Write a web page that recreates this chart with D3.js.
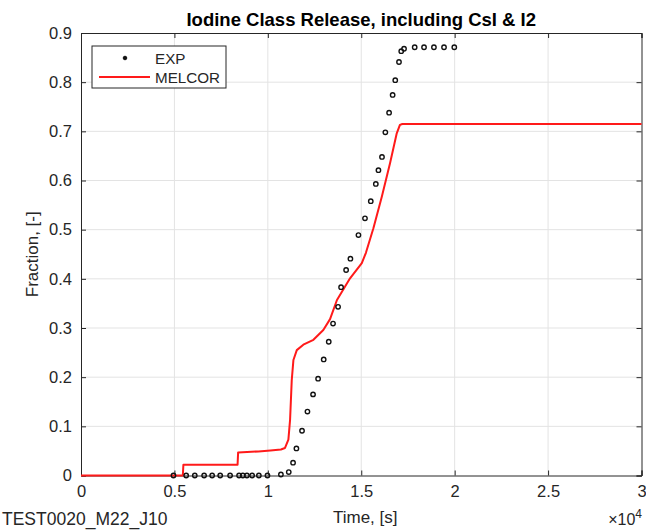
<!DOCTYPE html>
<html>
<head>
<meta charset="utf-8">
<script src="https://cdn.jsdelivr.net/npm/d3@7"></script>
<style>
  body { margin: 0; background: #fff; }
  text { font-family: "Liberation Sans", Arial, sans-serif; fill: #262626; }
</style>
</head>
<body>
<div id="chart"></div>
<script>
// EXP points (time in s, release fraction)
const expTime = [4950, 5630, 6090, 6590, 7020, 7450, 7980, 8460, 8660, 8880, 9160, 9520, 9980,
  10700, 11120, 11350, 11530, 11830, 12120, 12420, 12690, 12990, 13260, 13490, 13760,
  13920, 14190, 14420, 14850, 15200, 15510, 15780, 15920, 16110, 16290, 16490,
  16680, 16820, 17020, 17140, 17290, 17860, 18360, 18890, 19430, 19980];
const expFrac = [0, 0, 0, 0, 0, 0, 0, 0, 0, 0, 0, 0, 0,
  0.002, 0.007, 0.026, 0.055, 0.091, 0.130, 0.165, 0.197, 0.236, 0.272, 0.309, 0.343,
  0.383, 0.418, 0.441, 0.489, 0.523, 0.558, 0.593, 0.621, 0.648, 0.698, 0.738,
  0.774, 0.804, 0.841, 0.863, 0.868, 0.871, 0.871, 0.871, 0.871, 0.871];

// MELCOR calculation
const melTime = [0, 5450, 5480, 8380, 8410, 9500, 10140, 10700, 10920, 11100, 11190, 11280,
  11370, 11550, 11900, 12440, 12970, 13330, 13700, 14400, 15030, 15250, 15650, 16100,
  16540, 16900, 17070, 17200, 30000];
const melFrac = [0, 0, 0.022, 0.022, 0.047, 0.049, 0.051, 0.053, 0.056, 0.073, 0.113, 0.194,
  0.235, 0.255, 0.266, 0.276, 0.296, 0.318, 0.357, 0.401, 0.432, 0.453, 0.503, 0.567,
  0.635, 0.696, 0.713, 0.715, 0.715];

const xTicks = [0, 5000, 10000, 15000, 20000, 25000, 30000];
const xTickLabels = ["0", "0.5", "1", "1.5", "2", "2.5", "3"];
const yTicks = [0, 0.1, 0.2, 0.3, 0.4, 0.5, 0.6, 0.7, 0.8, 0.9];
const yTickLabels = ["0", "0.1", "0.2", "0.3", "0.4", "0.5", "0.6", "0.7", "0.8", "0.9"];

const width = 646,
  height = 530,
  margin = { top: 33, right: 4.5, bottom: 54.5, left: 81 };

const svg = d3.select("#chart").append("svg").attr("width", width).attr("height", height);

const x = d3.scaleLinear().domain([0, 30000]).range([margin.left, width - margin.right]);
const y = d3.scaleLinear().domain([0, 0.9]).range([height - margin.bottom, margin.top]);

const axisColor = "#262626";

// grid
svg.append("g")
  .selectAll("line")
  .data(xTicks.slice(1, -1))
  .join("line")
  .attr("x1", (d) => x(d)).attr("x2", (d) => x(d))
  .attr("y1", y(0)).attr("y2", y(0.9))
  .attr("stroke", "#e3e3e3").attr("stroke-width", 1);
svg.append("g")
  .selectAll("line")
  .data(yTicks.slice(1, -1))
  .join("line")
  .attr("x1", x(0)).attr("x2", x(30000))
  .attr("y1", (d) => y(d)).attr("y2", (d) => y(d))
  .attr("stroke", "#e3e3e3").attr("stroke-width", 1);

// axes (ticks inward, box on)
const bottomAxis = d3.axisBottom(x).tickValues(xTicks).tickSize(-5).tickPadding(10)
  .tickFormat((d, i) => xTickLabels[i]);
const topAxis = d3.axisTop(x).tickValues(xTicks).tickSize(-5).tickFormat("");
const leftAxis = d3.axisLeft(y).tickValues(yTicks).tickSize(-5).tickPadding(9)
  .tickFormat((d, i) => yTickLabels[i]);
const rightAxis = d3.axisRight(y).tickValues(yTicks).tickSize(-5).tickFormat("");

function styleAxis(g) {
  g.select(".domain").attr("stroke", axisColor).attr("stroke-width", 1);
  g.selectAll(".tick line").attr("stroke", axisColor);
  g.selectAll(".tick text")
    .attr("fill", axisColor)
    .style("font-family", "'Liberation Sans', Arial, sans-serif")
    .style("font-size", "16.5px");
}

svg.append("g").attr("transform", `translate(0, ${y(0)})`).call(bottomAxis).call(styleAxis);
svg.append("g").attr("transform", `translate(0, ${y(0.9)})`).call(topAxis).call(styleAxis);
svg.append("g").attr("transform", `translate(${x(0)}, 0)`).call(leftAxis).call(styleAxis);
svg.append("g").attr("transform", `translate(${x(30000)}, 0)`).call(rightAxis).call(styleAxis);

// MELCOR line
const line = d3.line().x((d) => x(d[0])).y((d) => y(d[1]));
svg.append("path")
  .attr("d", line(melTime.map((t, i) => [t, melFrac[i]])))
  .attr("fill", "none")
  .attr("stroke", "#ff1a1a")
  .attr("stroke-width", 2)
  .attr("stroke-linejoin", "round");

// EXP markers
svg.append("g")
  .selectAll("circle")
  .data(expTime.map((t, i) => [t, expFrac[i]]))
  .join("circle")
  .attr("cx", (d) => x(d[0]))
  .attr("cy", (d) => y(d[1]))
  .attr("r", 2.2)
  .attr("fill", "none")
  .attr("stroke", "#111")
  .attr("stroke-width", 1.4);

// legend
const legend = svg.append("g").attr("transform", "translate(92, 46)");
legend.append("rect")
  .attr("width", 134).attr("height", 42)
  .attr("fill", "#fff").attr("stroke", axisColor).attr("stroke-width", 1);
legend.append("circle")
  .attr("cx", 33).attr("cy", 12).attr("r", 1.8)
  .attr("fill", "#111").attr("stroke", "#111").attr("stroke-width", 1);
legend.append("line")
  .attr("x1", 7).attr("x2", 58).attr("y1", 31).attr("y2", 31)
  .attr("stroke", "#ff1a1a").attr("stroke-width", 2);
legend.append("text").attr("x", 63).attr("y", 17.5).style("font-size", "15.2px").text("EXP");
legend.append("text").attr("x", 63).attr("y", 37).style("font-size", "15.2px").text("MELCOR");

// title and labels
svg.append("text")
  .attr("x", (x(0) + x(30000)) / 2)
  .attr("y", 26)
  .attr("text-anchor", "middle")
  .style("font-size", "18.5px")
  .style("font-weight", "bold")
  .style("fill", "#000")
  .text("Iodine Class Release, including CsI & I2");

svg.append("text")
  .attr("transform", `translate(38, ${(y(0) + y(0.9)) / 2}) rotate(-90)`)
  .attr("text-anchor", "middle")
  .style("font-size", "17px")
  .text("Fraction, [-]");

svg.append("text")
  .attr("x", (x(0) + x(30000)) / 2 + 4)
  .attr("y", 523)
  .attr("text-anchor", "middle")
  .style("font-size", "17px")
  .text("Time, [s]");

svg.append("text")
  .attr("x", 2)
  .attr("y", 525)
  .style("font-size", "17.5px")
  .text("TEST0020_M22_J10");

const mult = svg.append("text")
  .attr("x", 642)
  .attr("y", 525)
  .attr("text-anchor", "end")
  .style("font-size", "16px");
mult.append("tspan").text("\u00d710");
mult.append("tspan").attr("dy", -7).style("font-size", "12px").text("4");
</script>
</body>
</html>
